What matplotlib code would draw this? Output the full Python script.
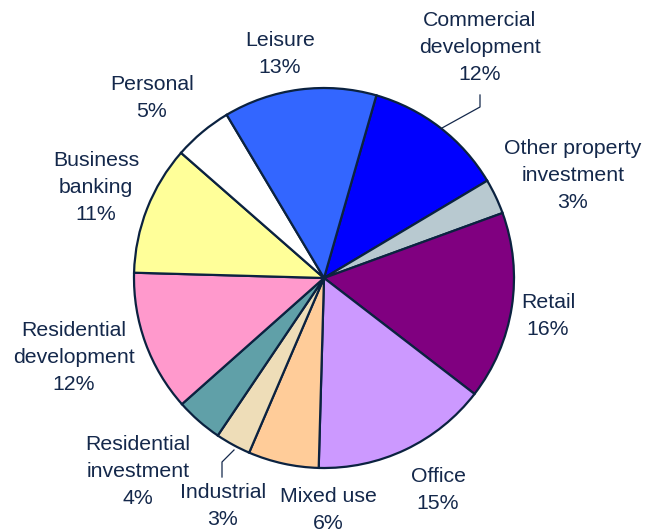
import matplotlib
matplotlib.use("Agg")
import matplotlib.pyplot as plt

categories = ["Commercial\ndevelopment", "Other property\ninvestment", "Retail", "Office",
              "Mixed use", "Industrial", "Residential\ninvestment", "Residential\ndevelopment",
              "Business\nbanking", "Personal", "Leisure"]
values = [12, 3, 16, 15, 6, 3, 4, 12, 11, 5, 13]
colors = ["#0000FF", "#B8C9D0", "#800080", "#CC99FF", "#FFCC99", "#EEDDB8",
          "#60A0A8", "#FF99CC", "#FFFF99", "#FFFFFF", "#3366FF"]

# label centres in pixel coords (x, y of first line from top)
label_pos = [(480, 21), (573, 149), (548, 303), (438, 477), (328, 497), (223, 493),
             (138, 445), (74, 331), (96, 161), (152, 85), (280, 41)]

W, H = 646, 529
fig = plt.figure(figsize=(W / 100, H / 100), dpi=100)
ax = fig.add_axes([0, 0, 1, 1])

edge = "#0b2240"
txt = "#14284b"
cx, cy, r = 324, H - 278, 190

ax.pie(values, colors=colors, startangle=74, counterclock=False, center=(cx, cy), radius=r,
       wedgeprops=dict(edgecolor=edge, linewidth=1.6), frame=True)
ax.set_xlim(0, W)
ax.set_ylim(0, H)
ax.set_aspect("equal")
ax.axis("off")

for cat, v, (x, y) in zip(categories, values, label_pos):
    lines = cat.split("\n") + [f"{v}%"]
    for i, line in enumerate(lines):
        ax.text(x, H - (y + i * 26.5), line, ha="center", va="center", fontsize=15.3,
                family="Liberation Sans", color=txt)

# leader lines
ax.plot([480, 480, 442], [H - 95, H - 107, H - 128], color=txt, lw=0.9)
ax.plot([222, 222, 234], [H - 477, H - 462, H - 450], color=txt, lw=0.9)

fig.savefig("out.png", dpi=100)
